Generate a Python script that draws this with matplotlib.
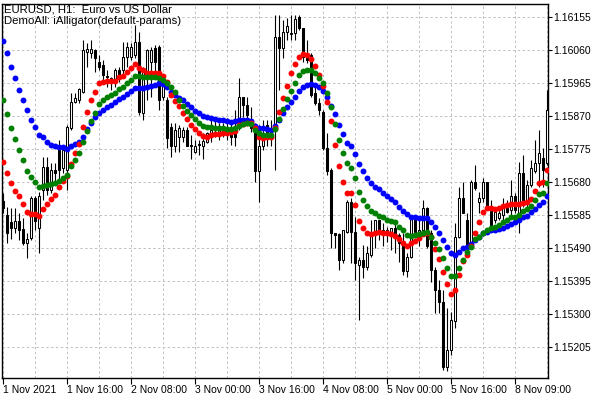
import numpy as np
import matplotlib
matplotlib.use('Agg')
import matplotlib.pyplot as plt

plt.rcParams['font.family'] = ['Liberation Sans', 'DejaVu Sans']

# hourly EURUSD bars
opens = [1.15626, 1.15586, 1.15564, 1.15549, 1.15567, 1.15545, 1.15504, 1.15519, 1.15635, 1.15547,
         1.15658, 1.15725, 1.15658, 1.15715, 1.15783, 1.15720, 1.15715, 1.15835, 1.15912, 1.15917,
         1.15941, 1.16056, 1.16051, 1.16061, 1.16025, 1.16018, 1.15986, 1.15979, 1.15975, 1.16003,
         1.16003, 1.16042, 1.16042, 1.16047, 1.16085, 1.15879, 1.15999, 1.16027, 1.16066, 1.16071,
         1.15927, 1.15917, 1.15840, 1.15783, 1.15811, 1.15811, 1.15831, 1.15787, 1.15768, 1.15789,
         1.15783, 1.15797, 1.15821, 1.15826, 1.15821, 1.15826, 1.15826, 1.15826, 1.15835, 1.15840,
         1.15927, 1.15903, 1.15859, 1.15840, 1.15711, 1.15783, 1.15845, 1.15811, 1.15835, 1.16099,
         1.16066, 1.16114, 1.16107, 1.16109, 1.16157, 1.16123, 1.16051, 1.16047, 1.15936, 1.15907,
         1.15883, 1.15778, 1.15715, 1.15533, 1.15530, 1.15456, 1.15538, 1.15624, 1.15538, 1.15442,
         1.15456, 1.15437, 1.15471, 1.15533, 1.15571, 1.15543, 1.15533, 1.15533, 1.15547, 1.15528,
         1.15504, 1.15423, 1.15466, 1.15576, 1.15533, 1.15543, 1.15605, 1.15533, 1.15427, 1.15370,
         1.15336, 1.15149, 1.15197, 1.15279, 1.15523, 1.15634, 1.15571, 1.15495, 1.15682, 1.15624,
         1.15634, 1.15682, 1.15605, 1.15571, 1.15576, 1.15586, 1.15610, 1.15600, 1.15639, 1.15591,
         1.15706, 1.15629, 1.15672, 1.15711, 1.15735, 1.15749, 1.15735]
highs = [1.15648, 1.15608, 1.15605, 1.15605, 1.15591, 1.15576, 1.15533, 1.15641, 1.15639, 1.15653,
         1.15754, 1.15754, 1.15735, 1.15735, 1.15802, 1.15783, 1.15845, 1.15936, 1.15936, 1.15951,
         1.16090, 1.16080, 1.16090, 1.16063, 1.16047, 1.16032, 1.16003, 1.15984, 1.16008, 1.16013,
         1.16085, 1.16085, 1.16080, 1.16133, 1.16114, 1.16013, 1.16063, 1.16071, 1.16075, 1.16075,
         1.15989, 1.15927, 1.15850, 1.15850, 1.15845, 1.15840, 1.15840, 1.15816, 1.15802, 1.15802,
         1.15821, 1.15826, 1.15869, 1.15859, 1.15850, 1.15850, 1.15864, 1.15855, 1.15888, 1.15979,
         1.15927, 1.15927, 1.15898, 1.15850, 1.15845, 1.15859, 1.15859, 1.15859, 1.16162, 1.16162,
         1.16147, 1.16152, 1.16162, 1.16162, 1.16162, 1.16123, 1.16090, 1.16051, 1.15965, 1.15922,
         1.15888, 1.15821, 1.15720, 1.15533, 1.15533, 1.15543, 1.15629, 1.15634, 1.15581, 1.15466,
         1.15499, 1.15495, 1.15571, 1.15571, 1.15571, 1.15562, 1.15552, 1.15547, 1.15571, 1.15533,
         1.15533, 1.15475, 1.15581, 1.15586, 1.15581, 1.15629, 1.15610, 1.15543, 1.15437, 1.15399,
         1.15370, 1.15317, 1.15307, 1.15562, 1.15667, 1.15682, 1.15591, 1.15687, 1.15730, 1.15653,
         1.15691, 1.15682, 1.15629, 1.15595, 1.15610, 1.15634, 1.15629, 1.15687, 1.15648, 1.15739,
         1.15759, 1.15687, 1.15744, 1.15802, 1.15831, 1.15778, 1.15946]
lows = [1.15591, 1.15504, 1.15516, 1.15533, 1.15514, 1.15499, 1.15461, 1.15514, 1.15543, 1.15475,
        1.15629, 1.15643, 1.15648, 1.15677, 1.15687, 1.15706, 1.15658, 1.15831, 1.15907, 1.15907,
        1.15936, 1.16013, 1.16037, 1.15999, 1.16003, 1.15975, 1.15955, 1.15946, 1.15955, 1.15970,
        1.15984, 1.16013, 1.16032, 1.16037, 1.15874, 1.15859, 1.15917, 1.15927, 1.15994, 1.15888,
        1.15917, 1.15778, 1.15754, 1.15768, 1.15768, 1.15797, 1.15783, 1.15746, 1.15763, 1.15759,
        1.15746, 1.15792, 1.15797, 1.15811, 1.15802, 1.15811, 1.15802, 1.15787, 1.15783, 1.15831,
        1.15869, 1.15859, 1.15826, 1.15682, 1.15624, 1.15773, 1.15783, 1.15783, 1.15715, 1.15946,
        1.16037, 1.16090, 1.16090, 1.16090, 1.16119, 1.16027, 1.16023, 1.15927, 1.15903, 1.15874,
        1.15773, 1.15701, 1.15490, 1.15490, 1.15427, 1.15447, 1.15533, 1.15447, 1.15399, 1.15283,
        1.15403, 1.15427, 1.15466, 1.15490, 1.15514, 1.15495, 1.15509, 1.15485, 1.15475, 1.15451,
        1.15413, 1.15408, 1.15461, 1.15519, 1.15495, 1.15533, 1.15490, 1.15394, 1.15303, 1.15303,
        1.15139, 1.15135, 1.15183, 1.15259, 1.15519, 1.15591, 1.15495, 1.15490, 1.15658, 1.15591,
        1.15624, 1.15600, 1.15552, 1.15562, 1.15571, 1.15571, 1.15591, 1.15581, 1.15591, 1.15533,
        1.15610, 1.15610, 1.15667, 1.15706, 1.15667, 1.15667, 1.15730]
closes = [1.15605, 1.15533, 1.15549, 1.15567, 1.15543, 1.15504, 1.15516, 1.15634, 1.15567, 1.15639,
          1.15725, 1.15658, 1.15715, 1.15706, 1.15715, 1.15773, 1.15840, 1.15912, 1.15922, 1.15948,
          1.16061, 1.16063, 1.16063, 1.16037, 1.16013, 1.15989, 1.15982, 1.15975, 1.16003, 1.15984,
          1.16042, 1.16071, 1.16071, 1.16085, 1.15883, 1.16003, 1.16061, 1.16061, 1.16027, 1.15917,
          1.15979, 1.15807, 1.15783, 1.15831, 1.15835, 1.15831, 1.15785, 1.15783, 1.15783, 1.15786,
          1.15799, 1.15821, 1.15831, 1.15821, 1.15831, 1.15816, 1.15835, 1.15811, 1.15811, 1.15927,
          1.15903, 1.15874, 1.15835, 1.15711, 1.15783, 1.15821, 1.15821, 1.15826, 1.16099, 1.16066,
          1.16114, 1.16130, 1.16111, 1.16150, 1.16123, 1.16042, 1.16032, 1.15931, 1.15907, 1.15888,
          1.15778, 1.15711, 1.15533, 1.15528, 1.15456, 1.15543, 1.15624, 1.15538, 1.15447, 1.15456,
          1.15437, 1.15475, 1.15533, 1.15571, 1.15533, 1.15533, 1.15543, 1.15547, 1.15523, 1.15504,
          1.15423, 1.15466, 1.15576, 1.15538, 1.15543, 1.15605, 1.15495, 1.15427, 1.15370, 1.15336,
          1.15149, 1.15197, 1.15283, 1.15523, 1.15634, 1.15591, 1.15495, 1.15682, 1.15663, 1.15634,
          1.15682, 1.15605, 1.15557, 1.15593, 1.15591, 1.15610, 1.15595, 1.15639, 1.15600, 1.15706,
          1.15619, 1.15672, 1.15720, 1.15735, 1.15763, 1.15715, 1.15888]

# alligator lines (already shifted, one value per bar)
jaw = [1.16088, 1.16051, 1.16011, 1.15979, 1.15946, 1.15917, 1.15888, 1.15859, 1.15838, 1.15816,
       1.15810, 1.15797, 1.15787, 1.15783, 1.15781, 1.15781, 1.15777, 1.15783, 1.15790, 1.15797,
       1.15811, 1.15833, 1.15850, 1.15867, 1.15879, 1.15888, 1.15896, 1.15903, 1.15910, 1.15919,
       1.15927, 1.15934, 1.15944, 1.15951, 1.15951, 1.15952, 1.15954, 1.15957, 1.15960, 1.15965,
       1.15963, 1.15954, 1.15941, 1.15931, 1.15924, 1.15917, 1.15906, 1.15896, 1.15886, 1.15879,
       1.15871, 1.15867, 1.15864, 1.15862, 1.15859, 1.15858, 1.15855, 1.15853, 1.15855, 1.15858,
       1.15859, 1.15859, 1.15855, 1.15842, 1.15835, 1.15835, 1.15833, 1.15831, 1.15842, 1.15859,
       1.15879, 1.15896, 1.15912, 1.15927, 1.15944, 1.15954, 1.15959, 1.15963, 1.15960, 1.15954,
       1.15944, 1.15927, 1.15900, 1.15876, 1.15845, 1.15818, 1.15794, 1.15783, 1.15761, 1.15733,
       1.15713, 1.15691, 1.15679, 1.15667, 1.15660, 1.15648, 1.15639, 1.15631, 1.15622, 1.15610,
       1.15598, 1.15588, 1.15581, 1.15579, 1.15576, 1.15576, 1.15576, 1.15564, 1.15550, 1.15533,
       1.15514, 1.15493, 1.15475, 1.15471, 1.15480, 1.15490, 1.15493, 1.15502, 1.15514, 1.15523,
       1.15533, 1.15538, 1.15541, 1.15543, 1.15545, 1.15548, 1.15554, 1.15560, 1.15566, 1.15571,
       1.15581, 1.15584, 1.15593, 1.15602, 1.15615, 1.15624, 1.15639]
teeth = [1.15738, 1.15706, 1.15678, 1.15656, 1.15639, 1.15618, 1.15594, 1.15589, 1.15588, 1.15583,
         1.15602, 1.15618, 1.15631, 1.15643, 1.15667, 1.15685, 1.15698, 1.15732, 1.15763, 1.15790,
         1.15840, 1.15881, 1.15917, 1.15940, 1.15965, 1.15970, 1.15973, 1.15973, 1.15973, 1.15982,
         1.15986, 1.15999, 1.16008, 1.16021, 1.16010, 1.16002, 1.15996, 1.15994, 1.15994, 1.15996,
         1.15986, 1.15970, 1.15931, 1.15915, 1.15900, 1.15879, 1.15861, 1.15845, 1.15833, 1.15821,
         1.15813, 1.15811, 1.15816, 1.15819, 1.15818, 1.15821, 1.15823, 1.15826, 1.15828, 1.15845,
         1.15847, 1.15852, 1.15850, 1.15835, 1.15809, 1.15807, 1.15809, 1.15811, 1.15835, 1.15882,
         1.15922, 1.15958, 1.15994, 1.16020, 1.16042, 1.16049, 1.16047, 1.16034, 1.16015, 1.15989,
         1.15957, 1.15912, 1.15855, 1.15787, 1.15727, 1.15680, 1.15650, 1.15648, 1.15615, 1.15569,
         1.15547, 1.15533, 1.15530, 1.15533, 1.15536, 1.15535, 1.15533, 1.15531, 1.15526, 1.15516,
         1.15506, 1.15495, 1.15504, 1.15512, 1.15518, 1.15531, 1.15533, 1.15522, 1.15487, 1.15458,
         1.15421, 1.15386, 1.15358, 1.15370, 1.15413, 1.15453, 1.15469, 1.15495, 1.15533, 1.15564,
         1.15593, 1.15605, 1.15605, 1.15602, 1.15607, 1.15612, 1.15615, 1.15618, 1.15618, 1.15618,
         1.15621, 1.15622, 1.15631, 1.15656, 1.15677, 1.15682, 1.15715]
lips = [1.15917, 1.15876, 1.15836, 1.15804, 1.15773, 1.15743, 1.15712, 1.15695, 1.15680, 1.15666,
        1.15669, 1.15671, 1.15674, 1.15679, 1.15685, 1.15691, 1.15701, 1.15728, 1.15744, 1.15765,
        1.15797, 1.15828, 1.15855, 1.15879, 1.15906, 1.15917, 1.15925, 1.15931, 1.15938, 1.15948,
        1.15954, 1.15965, 1.15975, 1.15986, 1.15986, 1.15984, 1.15982, 1.15982, 1.15982, 1.15979,
        1.15975, 1.15965, 1.15954, 1.15941, 1.15917, 1.15900, 1.15886, 1.15874, 1.15861, 1.15852,
        1.15842, 1.15838, 1.15838, 1.15837, 1.15835, 1.15835, 1.15834, 1.15833, 1.15835, 1.15842,
        1.15848, 1.15850, 1.15848, 1.15831, 1.15821, 1.15816, 1.15816, 1.15816, 1.15833, 1.15862,
        1.15891, 1.15920, 1.15944, 1.15965, 1.15989, 1.16001, 1.16003, 1.16003, 1.15996, 1.15979,
        1.15965, 1.15936, 1.15898, 1.15848, 1.15802, 1.15763, 1.15735, 1.15720, 1.15691, 1.15651,
        1.15629, 1.15612, 1.15598, 1.15591, 1.15583, 1.15579, 1.15571, 1.15567, 1.15564, 1.15552,
        1.15541, 1.15528, 1.15525, 1.15528, 1.15531, 1.15533, 1.15538, 1.15522, 1.15506, 1.15487,
        1.15461, 1.15432, 1.15410, 1.15410, 1.15432, 1.15456, 1.15480, 1.15493, 1.15516, 1.15522,
        1.15533, 1.15543, 1.15547, 1.15552, 1.15557, 1.15564, 1.15570, 1.15579, 1.15581, 1.15586,
        1.15598, 1.15602, 1.15612, 1.15629, 1.15646, 1.15650, 1.15677]

time_bars = [0, 16, 32, 48, 64, 80, 96, 112, 128]
time_labels = ['1 Nov 2021', '1 Nov 16:00', '2 Nov 08:00', '3 Nov 00:00', '3 Nov 16:00',
               '4 Nov 08:00', '5 Nov 00:00', '5 Nov 16:00', '8 Nov 09:00']
price_ticks = [1.15205, 1.15300, 1.15395, 1.15490, 1.15585, 1.15680,
               1.15775, 1.15870, 1.15965, 1.16060, 1.16155]

o = np.array(opens); h = np.array(highs); l = np.array(lows); c = np.array(closes)
x = np.arange(len(o))
up = c >= o

fig = plt.figure(figsize=(6, 4), dpi=100)
ax = fig.add_axes([2.3/600, 22/400, 545.7/600, 374/400])

# candles
ax.vlines(x, l, h, color='black', lw=0.8, zorder=2)
bot = np.minimum(o, c)
hgt = np.abs(c - o)
ax.bar(x[up], hgt[up], bottom=bot[up], width=0.6, color='white',
       edgecolor='black', lw=0.75, zorder=3)
ax.bar(x[~up], hgt[~up], bottom=bot[~up], width=0.6, color='black',
       edgecolor='black', lw=0.75, zorder=3)

# alligator
ax.scatter(x, jaw, s=18, color='#0000FF', linewidths=0, zorder=4)
ax.scatter(x, teeth, s=18, color='#FF0000', linewidths=0, zorder=5)
ax.scatter(x, lips, s=18, color='#008000', linewidths=0, zorder=6)

ax.set_xlim(-0.125, 136.3)
ax.set_ylim(1.15116, 1.161935)

ax.set_xticks(time_bars)
ax.set_xticklabels(time_labels)
ax.set_xticks(np.arange(8, 137, 16), minor=True)
for lab in ax.get_xticklabels():
    lab.set_ha('left')
ax.tick_params(axis='x', which='major', direction='out', length=4, width=0.8,
               labelsize=7.5, pad=1)
ax.tick_params(axis='x', which='minor', length=0)

ax.yaxis.tick_right()
ax.set_yticks(price_ticks)
ax.set_yticklabels(['%.5f' % p for p in price_ticks])
ax.tick_params(axis='y', direction='out', length=3, width=0.8, labelsize=7.5, pad=1)

ax.grid(True, which='both', color='#C0C0C0', lw=0.7, linestyle=(0, (2.5, 2.5)), zorder=0)
ax.set_axisbelow(True)
for s in ax.spines.values():
    s.set_color('black'); s.set_linewidth(1)

fig.text(4/600, 1 - 4/400, 'EURUSD, H1:  Euro vs US Dollar', va='top', ha='left', fontsize=8.2)
fig.text(4/600, 1 - 16/400, 'DemoAll: iAlligator(default-params)', va='top', ha='left', fontsize=8.2)

fig.savefig('out.png', dpi=100)
